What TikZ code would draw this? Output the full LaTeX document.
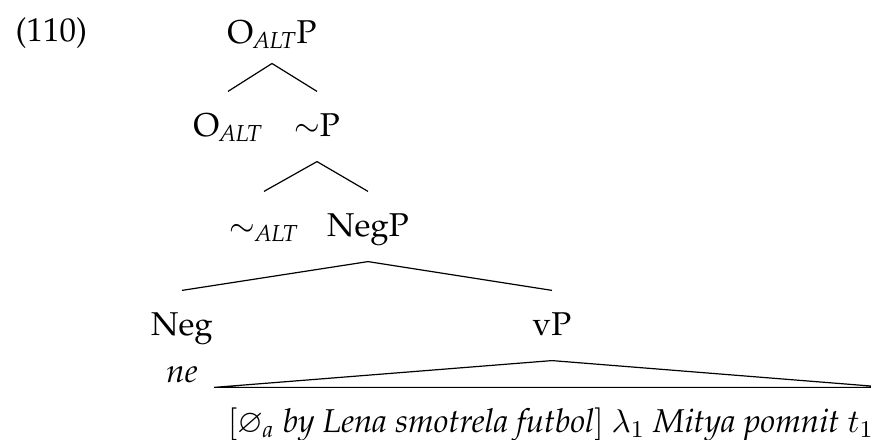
\documentclass[tikz,border=0pt]{standalone}
\usepackage[T1]{fontenc}
\usepackage{palatino}
\usepackage{amsmath,amssymb}
\usepackage{tikz}
\usetikzlibrary{positioning}

\begin{document}
\begin{tikzpicture}[x=0.3333pt, y=-0.3333pt, font=\fontsize{11}{13}\selectfont,
	cat/.style={inner sep=0pt, text height=15pt, text depth=8pt, anchor=base},
	roof/.style={inner xsep=4.5pt, inner ysep=0pt, text height=15pt, text depth=3pt, anchor=base}]
		\useasboundingbox (0,0) rectangle (871,440);
		\node[anchor=base west, inner sep=0pt] (exnum) at (15,42) {(110)};
		\node[cat, text depth=6.3pt] (oaltp) at (272,44) {O$_{\textit{ALT}}$P};
		\node[cat] (oalt) at (228,137) {O$_{\textit{ALT}}$};
		\node[cat] (simp) at (317,137) {$\sim$P};
		\node[cat] (simalt) at (264,237) {$\sim_{\textit{ALT}}$};
		\node[cat] (negp) at (368,237) {NegP};
		\node[cat] (neg) at (182,336) {Neg};
		\node[cat] (vp) at (552,336) {vP};
		\node[anchor=base, inner sep=0pt] (ne) at (182,383) {\textit{ne}};
		\node[roof] (vpterm) at (551,433) {$[\varnothing_{\textit{a}}$ \textit{by Lena smotrela futbol}$]$ $\lambda_1$ \textit{Mitya pomnit} $t_1$};
		\draw (oaltp.south) -- (oalt.north);
		\draw (oaltp.south) -- (simp.north);
		\draw (simp.south) -- (simalt.north);
		\draw (simp.south) -- (negp.north);
		\draw (negp.south) -- (neg.north);
		\draw (negp.south) -- (vp.north);
		\draw (vp.south) -- (vpterm.north west) -- (vpterm.north east) -- cycle;
	\end{tikzpicture}
\end{document}
